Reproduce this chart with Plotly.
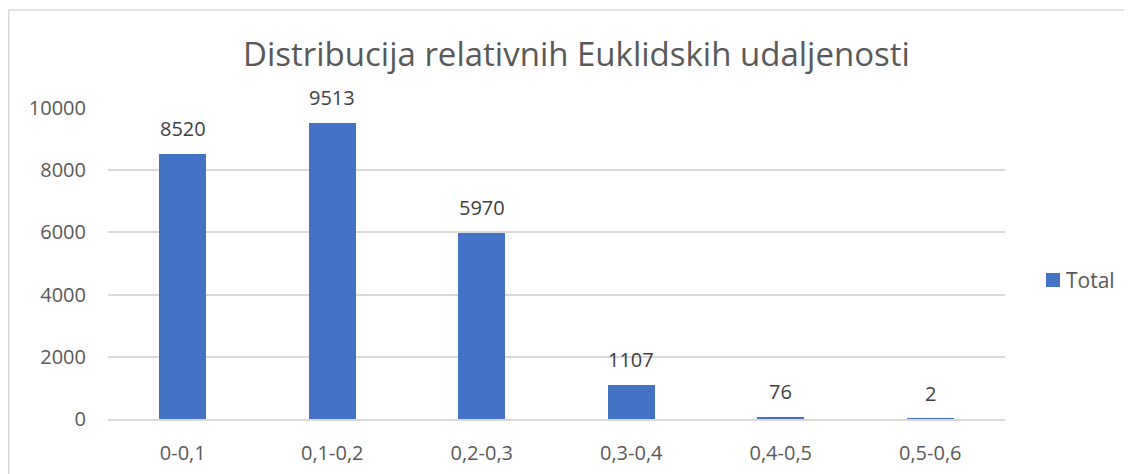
import plotly.graph_objects as go

categories = ["0-0,1", "0,1-0,2", "0,2-0,3", "0,3-0,4", "0,4-0,5", "0,5-0,6"]
values = [8520, 9513, 5970, 1107, 76, 2]
y_ticks = [0, 2000, 4000, 6000, 8000, 10000]
series_name = "Total"
title_text = "Distribucija relativnih Euklidskih udaljenosti"

FONT = "Open Sans"
GRAY = "#595959"
BLUE = "#4472C4"

# page body has an 8px margin; the figure starts 8px in from the window's corner
OFF = 8
WIN_W, WIN_H = 1132, 474
W, H = WIN_W - 2 * OFF, WIN_H - OFF
PL, PR, PT, PB = 108, 1005, 108, 419  # plot area in window pixels
L, T = PL - OFF, PT - OFF
R, B = (OFF + W) - PR, (OFF + H) - PB
pw, ph = PR - PL, PB - PT

def px_to_paper_x(px):
    return (px - PL) / pw

def px_to_paper_y(py):
    return (PB - py) / ph

fig = go.Figure()
fig.add_trace(go.Bar(
    x=categories, y=values, name=series_name,
    marker=dict(color=BLUE, line=dict(width=0)),
    width=0.315, showlegend=False,
))

annotations = []
for c, v in zip(categories, values):
    annotations.append(dict(
        x=c, y=v, xref="x", yref="y", text=str(v), showarrow=False,
        yanchor="bottom", yshift=10,
        font=dict(family=FONT, size=20, color="#404040"),
    ))
annotations.append(dict(
    x=px_to_paper_x(576), y=px_to_paper_y(53), xref="paper", yref="paper",
    text=title_text, showarrow=False, xanchor="center", yanchor="middle",
    font=dict(family=FONT, size=33, color=GRAY),
))
annotations.append(dict(
    x=px_to_paper_x(1064), y=px_to_paper_y(280), xref="paper", yref="paper",
    text=series_name, showarrow=False, xanchor="left", yanchor="middle",
    font=dict(family=FONT, size=21, color=GRAY),
))

shapes = [
    dict(type="rect", xref="paper", yref="paper",
         x0=px_to_paper_x(8.75), x1=px_to_paper_x(1145),
         y0=px_to_paper_y(485), y1=px_to_paper_y(10),
         line=dict(color="#d9d9d9", width=1.5), fillcolor="rgba(0,0,0,0)", layer="below"),
    dict(type="rect", xref="paper", yref="paper",
         x0=px_to_paper_x(1046), x1=px_to_paper_x(1060),
         y0=px_to_paper_y(287), y1=px_to_paper_y(273),
         line=dict(width=0), fillcolor=BLUE),
]

fig.update_layout(
    width=W, height=H,
    margin=dict(l=L, r=R, t=T, b=B, pad=0, autoexpand=False),
    paper_bgcolor="white", plot_bgcolor="white",
    font=dict(family=FONT, size=20, color=GRAY),
    bargap=0,
    showlegend=False,
    annotations=annotations,
    shapes=shapes,
)
fig.update_xaxes(
    type="category", showgrid=False, showline=True, linecolor="#d9d9d9", linewidth=1.5,
    ticks="outside", ticklen=15, tickcolor="rgba(0,0,0,0)", automargin=False,
    tickfont=dict(family=FONT, size=20, color=GRAY), zeroline=False,
)
fig.update_yaxes(
    range=[0, 10000], tickvals=y_ticks, ticktext=[str(t) for t in y_ticks],
    showgrid=True, gridcolor="#d9d9d9", gridwidth=1.5, zeroline=False, showline=False,
    ticks="outside", ticklen=17, tickcolor="rgba(0,0,0,0)", automargin=False,
    tickfont=dict(family=FONT, size=20, color=GRAY),
)

fig.write_html("out.html")
